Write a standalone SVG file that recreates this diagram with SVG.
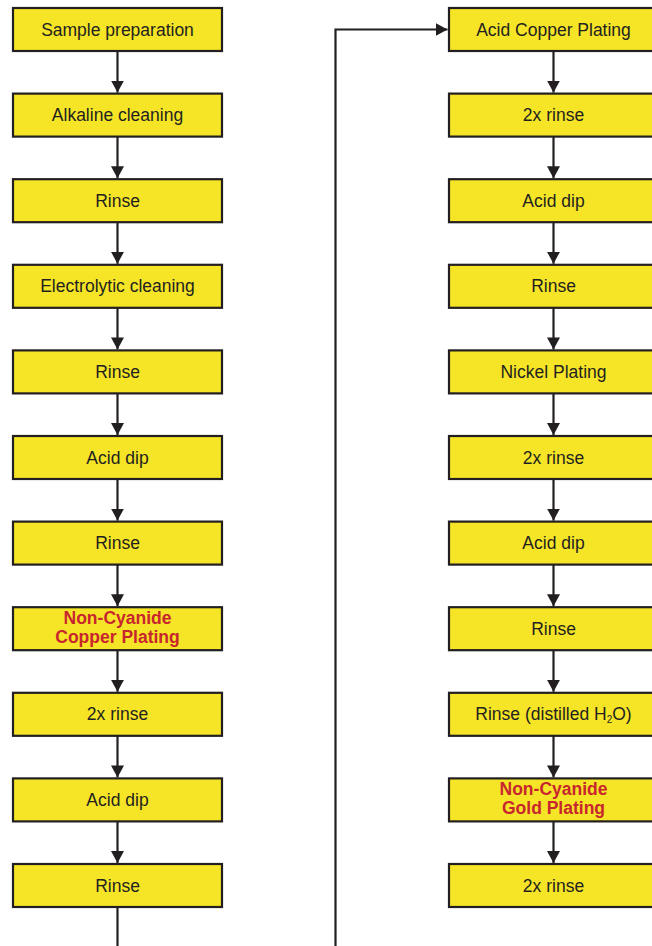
<svg xmlns="http://www.w3.org/2000/svg" width="652" height="946" viewBox="0 0 652 946">
<defs>
<style>
.box{fill:#f6e526;stroke:#231f20;stroke-width:2.2}
.t{font-family:"Liberation Sans",Arial,sans-serif;font-size:17.5px;fill:#231f20;text-anchor:middle}
.r{font-family:"Liberation Sans",Arial,sans-serif;font-size:17.5px;font-weight:bold;fill:#c8262e;text-anchor:middle}
.c{fill:none;stroke:#231f20;stroke-width:2.2}
</style>
<marker id="ah" markerUnits="userSpaceOnUse" markerWidth="13" markerHeight="13" refX="12" refY="6.5" orient="auto">
<path d="M0,0 L12,6.5 L0,13 z" fill="#231f20"/>
</marker>
</defs>
<rect width="652" height="946" fill="#ffffff"/>
<g id="connectors">
<line class="c" x1="117.5" y1="51" x2="117.5" y2="92.6" marker-end="url(#ah)"/>
<line class="c" x1="117.5" y1="136.6" x2="117.5" y2="178.2" marker-end="url(#ah)"/>
<line class="c" x1="117.5" y1="222.2" x2="117.5" y2="263.8" marker-end="url(#ah)"/>
<line class="c" x1="117.5" y1="307.8" x2="117.5" y2="349.4" marker-end="url(#ah)"/>
<line class="c" x1="117.5" y1="393.4" x2="117.5" y2="435" marker-end="url(#ah)"/>
<line class="c" x1="117.5" y1="479" x2="117.5" y2="520.6" marker-end="url(#ah)"/>
<line class="c" x1="117.5" y1="564.6" x2="117.5" y2="606.2" marker-end="url(#ah)"/>
<line class="c" x1="117.5" y1="650.2" x2="117.5" y2="691.8" marker-end="url(#ah)"/>
<line class="c" x1="117.5" y1="735.8" x2="117.5" y2="777.4" marker-end="url(#ah)"/>
<line class="c" x1="117.5" y1="821.4" x2="117.5" y2="863" marker-end="url(#ah)"/>
<path class="c" d="M117.5,907 V970 H335.5 V29.5 H447.5" marker-end="url(#ah)"/>
<line class="c" x1="553.5" y1="51" x2="553.5" y2="92.6" marker-end="url(#ah)"/>
<line class="c" x1="553.5" y1="136.6" x2="553.5" y2="178.2" marker-end="url(#ah)"/>
<line class="c" x1="553.5" y1="222.2" x2="553.5" y2="263.8" marker-end="url(#ah)"/>
<line class="c" x1="553.5" y1="307.8" x2="553.5" y2="349.4" marker-end="url(#ah)"/>
<line class="c" x1="553.5" y1="393.4" x2="553.5" y2="435" marker-end="url(#ah)"/>
<line class="c" x1="553.5" y1="479" x2="553.5" y2="520.6" marker-end="url(#ah)"/>
<line class="c" x1="553.5" y1="564.6" x2="553.5" y2="606.2" marker-end="url(#ah)"/>
<line class="c" x1="553.5" y1="650.2" x2="553.5" y2="691.8" marker-end="url(#ah)"/>
<line class="c" x1="553.5" y1="735.8" x2="553.5" y2="777.4" marker-end="url(#ah)"/>
<line class="c" x1="553.5" y1="821.4" x2="553.5" y2="863" marker-end="url(#ah)"/>
</g>
<g id="L1"><rect class="box" x="13" y="8" width="209" height="43"/><text class="t" x="117.5" y="35.5">Sample preparation</text></g>
<g id="L2"><rect class="box" x="13" y="93.6" width="209" height="43"/><text class="t" x="117.5" y="121.1">Alkaline cleaning</text></g>
<g id="L3"><rect class="box" x="13" y="179.2" width="209" height="43"/><text class="t" x="117.5" y="206.7">Rinse</text></g>
<g id="L4"><rect class="box" x="13" y="264.8" width="209" height="43"/><text class="t" x="117.5" y="292.3">Electrolytic cleaning</text></g>
<g id="L5"><rect class="box" x="13" y="350.4" width="209" height="43"/><text class="t" x="117.5" y="377.9">Rinse</text></g>
<g id="L6"><rect class="box" x="13" y="436" width="209" height="43"/><text class="t" x="117.5" y="463.5">Acid dip</text></g>
<g id="L7"><rect class="box" x="13" y="521.6" width="209" height="43"/><text class="t" x="117.5" y="549.1">Rinse</text></g>
<g id="L8"><rect class="box" x="13" y="607.2" width="209" height="43"/><text class="r" x="117.5" y="624">Non-Cyanide</text><text class="r" x="117.5" y="643">Copper Plating</text></g>
<g id="L9"><rect class="box" x="13" y="692.8" width="209" height="43"/><text class="t" x="117.5" y="720.3">2x rinse</text></g>
<g id="L10"><rect class="box" x="13" y="778.4" width="209" height="43"/><text class="t" x="117.5" y="805.9">Acid dip</text></g>
<g id="L11"><rect class="box" x="13" y="864" width="209" height="43"/><text class="t" x="117.5" y="891.5">Rinse</text></g>
<g id="R1"><rect class="box" x="449" y="8" width="209" height="43"/><text class="t" x="553.5" y="35.5">Acid Copper Plating</text></g>
<g id="R2"><rect class="box" x="449" y="93.6" width="209" height="43"/><text class="t" x="553.5" y="121.1">2x rinse</text></g>
<g id="R3"><rect class="box" x="449" y="179.2" width="209" height="43"/><text class="t" x="553.5" y="206.7">Acid dip</text></g>
<g id="R4"><rect class="box" x="449" y="264.8" width="209" height="43"/><text class="t" x="553.5" y="292.3">Rinse</text></g>
<g id="R5"><rect class="box" x="449" y="350.4" width="209" height="43"/><text class="t" x="553.5" y="377.9">Nickel Plating</text></g>
<g id="R6"><rect class="box" x="449" y="436" width="209" height="43"/><text class="t" x="553.5" y="463.5">2x rinse</text></g>
<g id="R7"><rect class="box" x="449" y="521.6" width="209" height="43"/><text class="t" x="553.5" y="549.1">Acid dip</text></g>
<g id="R8"><rect class="box" x="449" y="607.2" width="209" height="43"/><text class="t" x="553.5" y="634.7">Rinse</text></g>
<g id="R9"><rect class="box" x="449" y="692.8" width="209" height="43"/><text class="t" x="553.5" y="720.3">Rinse (distilled H<tspan font-size="10" dy="3">2</tspan><tspan dy="-3">O)</tspan></text></g>
<g id="R10"><rect class="box" x="449" y="778.4" width="209" height="43"/><text class="r" x="553.5" y="795.2">Non-Cyanide</text><text class="r" x="553.5" y="814.2">Gold Plating</text></g>
<g id="R11"><rect class="box" x="449" y="864" width="209" height="43"/><text class="t" x="553.5" y="891.5">2x rinse</text></g>
</svg>
